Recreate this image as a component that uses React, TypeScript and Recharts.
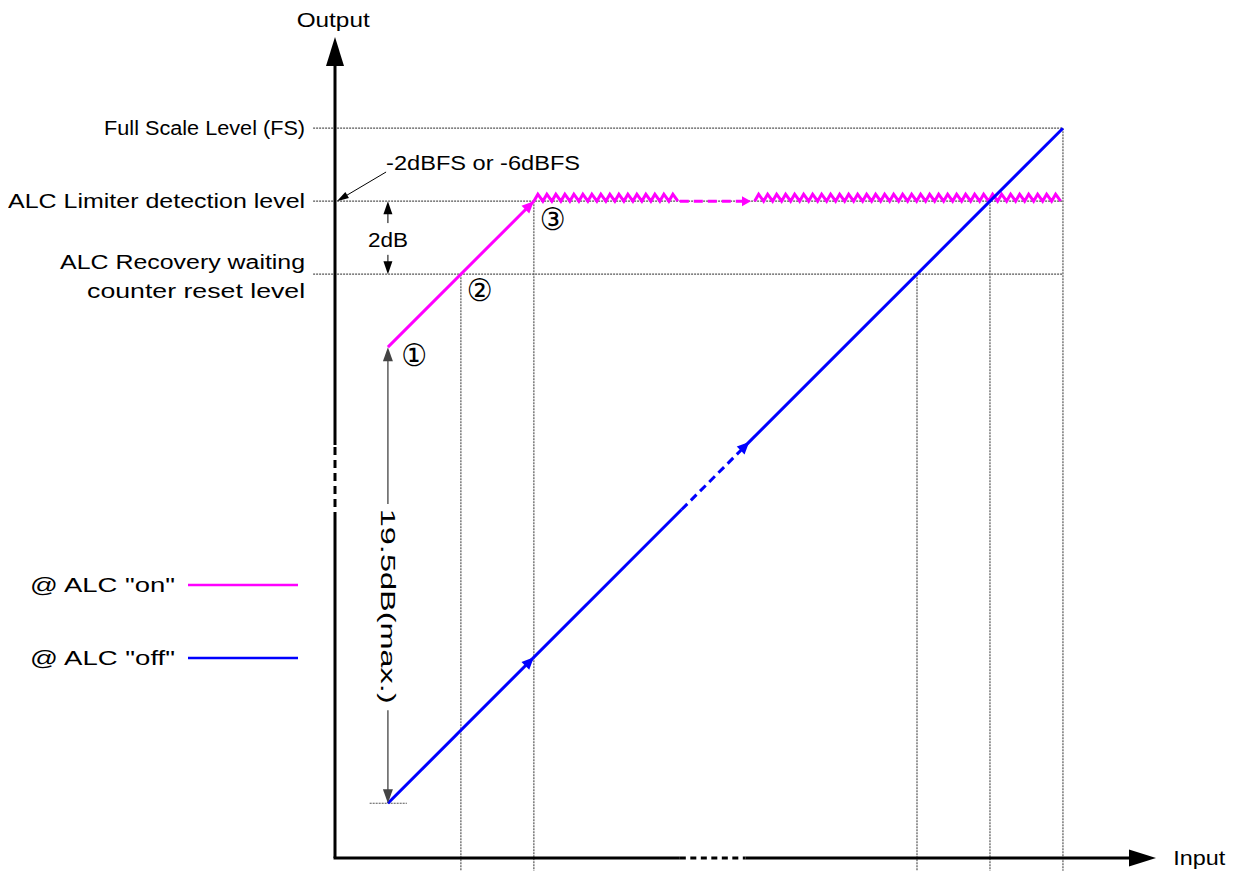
import { ComposedChart, Line, XAxis, YAxis, ReferenceLine, ReferenceDot, Legend } from "recharts";

// ALC limiter transfer curve (schematic). Units: output level with FS = 0,
// input on the same scale so the ALC-off line is 1:1.

const FONT = "'Liberation Sans', Arial, Helvetica, sans-serif";
const CIRCLE_FONT = "'DejaVu Sans', 'Noto Sans CJK JP', sans-serif";

const X0 = 0.05; // where the output axis sits
const X1 = 22.55;
const Y0 = -20; // where the input axis sits
const Y1 = 2.5;

// output levels: FS, limiter detection, recovery reset
const levelValues = [0, -2, -4];
const levelNames = ["Full Scale Level (FS)", "ALC Limiter detection level", "ALC Recovery waiting", "counter reset level"];

// dotted drop lines: input position and the level they start from
const dropInputs = [3.5, 5.5, 16, 18, 20];
const dropLevels = [-4, -2, -4, -2, 0];

// ALC "off": straight line, broken in the middle
const offLow = [{ in: 1.5, out: -18.5 }, { in: 9.55, out: -10.45 }];
const offBreak = [{ in: 9.55, out: -10.45 }, { in: 11.3, out: -8.7 }];
const offHigh = [{ in: 11.3, out: -8.7 }, { in: 20, out: 0 }];

// ALC "on": rises to the limiter level, then held there
const onRise = [{ in: 1.5, out: -6 }, { in: 5.5, out: -2 }];
const onHoldA = [5.5, 9.5];
const onHoldGap = [9.5, 11.45];
const onHoldB = [11.55, 20];

// axis breaks
const xBreak = [9.5, 11.3];
const yBreak = [-10.74, -8.68];

const circled = ["①", "②", "③"];
const seriesNames = ['@ ALC "on"', '@ ALC "off"'];

const PINK = "#ff00ff";
const BLUE = "#0000ff";
const DOT = "#555";

type SegOpts = {
  color?: string;
  width?: number;
  dash?: string;
  head?: [number, number];
  tail?: [number, number];
  zig?: boolean;
  headOnly?: boolean;
};

const arrowPts = (x1: number, y1: number, x2: number, y2: number, len: number, half: number) => {
  const d = Math.hypot(x2 - x1, y2 - y1) || 1;
  const ux = (x2 - x1) / d;
  const uy = (y2 - y1) / d;
  const bx = x2 - ux * len;
  const by = y2 - uy * len;
  return `${x2},${y2} ${bx - uy * half},${by + ux * half} ${bx + uy * half},${by - ux * half}`;
};

const seg = (o: SegOpts) => (p: any) => {
  const { x1, y1, x2, y2 } = p;
  const c = o.color ?? "#000";
  const d = Math.hypot(x2 - x1, y2 - y1) || 1;
  const ux = (x2 - x1) / d;
  const uy = (y2 - y1) / d;
  let sx = x1, sy = y1, ex = x2, ey = y2;
  if (o.head) { ex = x2 - ux * o.head[0] * 0.7; ey = y2 - uy * o.head[0] * 0.7; }
  if (o.tail) { sx = x1 + ux * o.tail[0] * 0.7; sy = y1 + uy * o.tail[0] * 0.7; }
  let body = null;
  if (!o.headOnly) {
    if (o.zig) {
      const per = 9, amp = 7;
      const nx = uy, ny = -ux;
      let path = `M${x1},${y1}`;
      for (let t = 0; t + per <= d + 0.5; t += per) {
        path += ` L${x1 + ux * (t + 4) + nx * amp},${y1 + uy * (t + 4) + ny * amp}`;
        path += ` L${x1 + ux * (t + per)},${y1 + uy * (t + per)}`;
      }
      body = <path d={path} fill="none" stroke={c} strokeWidth={o.width ?? 3} strokeLinejoin="miter" />;
    } else {
      body = (
        <line x1={sx} y1={sy} x2={ex} y2={ey} stroke={c} strokeWidth={o.width ?? 1}
          strokeDasharray={o.dash} />
      );
    }
  }
  return (
    <g>
      {body}
      {o.head && <polygon points={arrowPts(x1, y1, x2, y2, o.head[0], o.head[1])} fill={c} />}
      {o.tail && <polygon points={arrowPts(x2, y2, x1, y1, o.tail[0], o.tail[1])} fill={c} />}
    </g>
  );
};

const txt = (s: string, w: number, anchor = "start", size = 20, rot = 0, font = FONT) => (p: any) => (
  <text x={p.cx} y={p.cy} dy="0.36em" textAnchor={anchor} fontSize={size} fontFamily={font} fill="#000"
    textLength={w} lengthAdjust="spacingAndGlyphs"
    transform={rot ? `rotate(${rot} ${p.cx} ${p.cy})` : undefined}>
    {s}
  </text>
);

const legendContent = (props: any) => {
  const items = (props.payload || [])
    .filter((e: any) => seriesNames.includes(e.value))
    .sort((a: any, b: any) => seriesNames.indexOf(a.value) - seriesNames.indexOf(b.value));
  return (
    <div>
      {items.map((e: any, i: number) => (
        <svg key={i} width={300} height={40} style={{ display: "block", marginBottom: 33 }}>
          <text x={22} y={20} dy="0.36em" fontFamily={FONT} fontSize={20} textLength={145}
            lengthAdjust="spacingAndGlyphs">{e.value}</text>
          <line x1={180} x2={290} y1={20} y2={20} stroke={e.color} strokeWidth={2.5} />
        </svg>
      ))}
    </div>
  );
};

export default function App() {
  const labelW = [201, 297, 245, 218];
  const labelY = [0, -2, -3.65, -4.45];
  const circlePos = [[2.22, -6.22], [4.02, -4.43], [6.02, -2.49]];
  return (
    <div style={{ width: 1222, height: 864 }}>
      <ComposedChart width={1222} height={864} margin={{ top: 29, right: 74, bottom: 14, left: 327 }}>
        <XAxis type="number" dataKey="in" domain={[X0, X1]} hide allowDataOverflow />
        <YAxis type="number" dataKey="out" domain={[Y0, Y1]} hide allowDataOverflow />

        {/* dotted level lines */}
        {levelValues.map((lv) => (
          <ReferenceLine key={`lv${lv}`} ifOverflow="visible"
            segment={[{ x: -0.55, y: lv }, { x: 20, y: lv }]}
            shape={seg({ color: DOT, width: 1.2, dash: "2 1" })} />
        ))}
        {dropInputs.map((xi, i) => (
          <ReferenceLine key={`dr${xi}`} ifOverflow="visible"
            segment={[{ x: xi, y: dropLevels[i] }, { x: xi, y: -20.35 }]}
            shape={seg({ color: DOT, width: 1.2, dash: "2 1" })} />
        ))}
        <ReferenceLine ifOverflow="visible" segment={[{ x: 1.0, y: -18.5 }, { x: 2.02, y: -18.5 }]}
          shape={seg({ color: DOT, width: 1.2, dash: "2 1" })} />

        {/* output axis */}
        <ReferenceLine ifOverflow="visible" segment={[{ x: X0, y: Y0 }, { x: X0, y: yBreak[0] }]}
          shape={seg({ width: 3 })} />
        <ReferenceLine ifOverflow="visible" segment={[{ x: X0, y: yBreak[0] }, { x: X0, y: yBreak[1] }]}
          shape={seg({ width: 3, dash: "8 5" })} />
        <ReferenceLine ifOverflow="visible" segment={[{ x: X0, y: yBreak[1] }, { x: X0, y: Y1 }]}
          shape={seg({ width: 3, head: [29, 9] })} />
        {/* input axis */}
        <ReferenceLine ifOverflow="visible" segment={[{ x: X0 - 0.04, y: Y0 }, { x: xBreak[0], y: Y0 }]}
          shape={seg({ width: 3 })} />
        <ReferenceLine ifOverflow="visible" segment={[{ x: xBreak[0], y: Y0 }, { x: xBreak[1], y: Y0 }]}
          shape={seg({ width: 3, dash: "6 4.5" })} />
        <ReferenceLine ifOverflow="visible" segment={[{ x: xBreak[1], y: Y0 }, { x: X1, y: Y0 }]}
          shape={seg({ width: 3, head: [27, 8.5] })} />

        {/* ALC on */}
        <Line data={onRise} dataKey="out" name={seriesNames[0]} stroke={PINK} strokeWidth={3}
          dot={false} isAnimationActive={false} type="linear" />
        <ReferenceLine ifOverflow="visible" segment={[{ x: onHoldA[0], y: -2 }, { x: onHoldA[1], y: -2 }]}
          shape={seg({ color: PINK, zig: true })} />
        <ReferenceLine ifOverflow="visible" segment={[{ x: onHoldGap[0], y: -2 }, { x: onHoldGap[1], y: -2 }]}
          shape={seg({ color: PINK, width: 3, dash: "9 5", head: [9, 5] })} />
        <ReferenceLine ifOverflow="visible" segment={[{ x: onHoldB[0], y: -2 }, { x: onHoldB[1], y: -2 }]}
          shape={seg({ color: PINK, zig: true })} />
        <ReferenceLine ifOverflow="visible" segment={[{ x: 5.2, y: -2.3 }, { x: 5.5, y: -2 }]}
          shape={seg({ color: PINK, head: [12, 5.5], headOnly: true })} />

        {/* ALC off */}
        <Line data={offLow} dataKey="out" name={seriesNames[1]} stroke={BLUE} strokeWidth={3}
          dot={false} isAnimationActive={false} type="linear" />
        <Line data={offBreak} dataKey="out" stroke={BLUE} strokeWidth={3} strokeDasharray="8 5"
          dot={false} isAnimationActive={false} type="linear" legendType="none" />
        <Line data={offHigh} dataKey="out" stroke={BLUE} strokeWidth={3}
          dot={false} isAnimationActive={false} type="linear" legendType="none" />
        <ReferenceLine ifOverflow="visible" segment={[{ x: 5.2, y: -14.8 }, { x: 5.5, y: -14.5 }]}
          shape={seg({ color: BLUE, head: [12, 5.5], headOnly: true })} />
        <ReferenceLine ifOverflow="visible" segment={[{ x: 11.1, y: -8.9 }, { x: 11.4, y: -8.6 }]}
          shape={seg({ color: BLUE, head: [12, 5.5], headOnly: true })} />

        {/* dimension arrows */}
        <ReferenceLine ifOverflow="visible" segment={[{ x: 1.5, y: -2.6 }, { x: 1.5, y: -2 }]}
          shape={seg({ width: 1, head: [13, 4.5] })} />
        <ReferenceLine ifOverflow="visible" segment={[{ x: 1.5, y: -3.47 }, { x: 1.5, y: -4 }]}
          shape={seg({ width: 1, head: [13, 4.5] })} />
        <ReferenceLine ifOverflow="visible" segment={[{ x: 1.5, y: -10.3 }, { x: 1.5, y: -6 }]}
          shape={seg({ color: "#444", width: 1.3, head: [14, 5] })} />
        <ReferenceLine ifOverflow="visible" segment={[{ x: 1.5, y: -15.95 }, { x: 1.5, y: -18.5 }]}
          shape={seg({ color: "#444", width: 1.3, head: [14, 5] })} />
        <ReferenceLine ifOverflow="visible" segment={[{ x: 1.45, y: -1.2 }, { x: 0.1, y: -2 }]}
          shape={seg({ width: 1, head: [12, 3.5] })} />

        {/* text */}
        <ReferenceDot x={0} y={2.97} r={0} ifOverflow="visible" shape={txt("Output", 73, "middle")} />
        <ReferenceDot x={23.02} y={-20} r={0} ifOverflow="visible" shape={txt("Input", 52)} />
        {levelNames.map((s, i) => (
          <ReferenceDot key={s} x={-0.77} y={labelY[i]} r={0} ifOverflow="visible"
            shape={txt(s, labelW[i], "end")} />
        ))}
        <ReferenceDot x={1.45} y={-0.95} r={0} ifOverflow="visible" shape={txt("-2dBFS or -6dBFS", 194)} />
        <ReferenceDot x={1.5} y={-3.05} r={0} ifOverflow="visible" shape={txt("2dB", 40, "middle")} />
        <ReferenceDot x={1.5} y={-13.1} r={0} ifOverflow="visible"
          shape={txt("19.5dB(max.)", 195, "middle", 20, 90)} />
        {circled.map((s, i) => (
          <ReferenceDot key={s} x={circlePos[i][0]} y={circlePos[i][1]} r={0} ifOverflow="visible"
            shape={txt(s, 26, "middle", 31, 0, CIRCLE_FONT)} />
        ))}

        <Legend layout="vertical" align="center" verticalAlign="middle" content={legendContent}
          wrapperStyle={{ left: 0, top: 557, width: 300 }} />
      </ComposedChart>
    </div>
  );
}
